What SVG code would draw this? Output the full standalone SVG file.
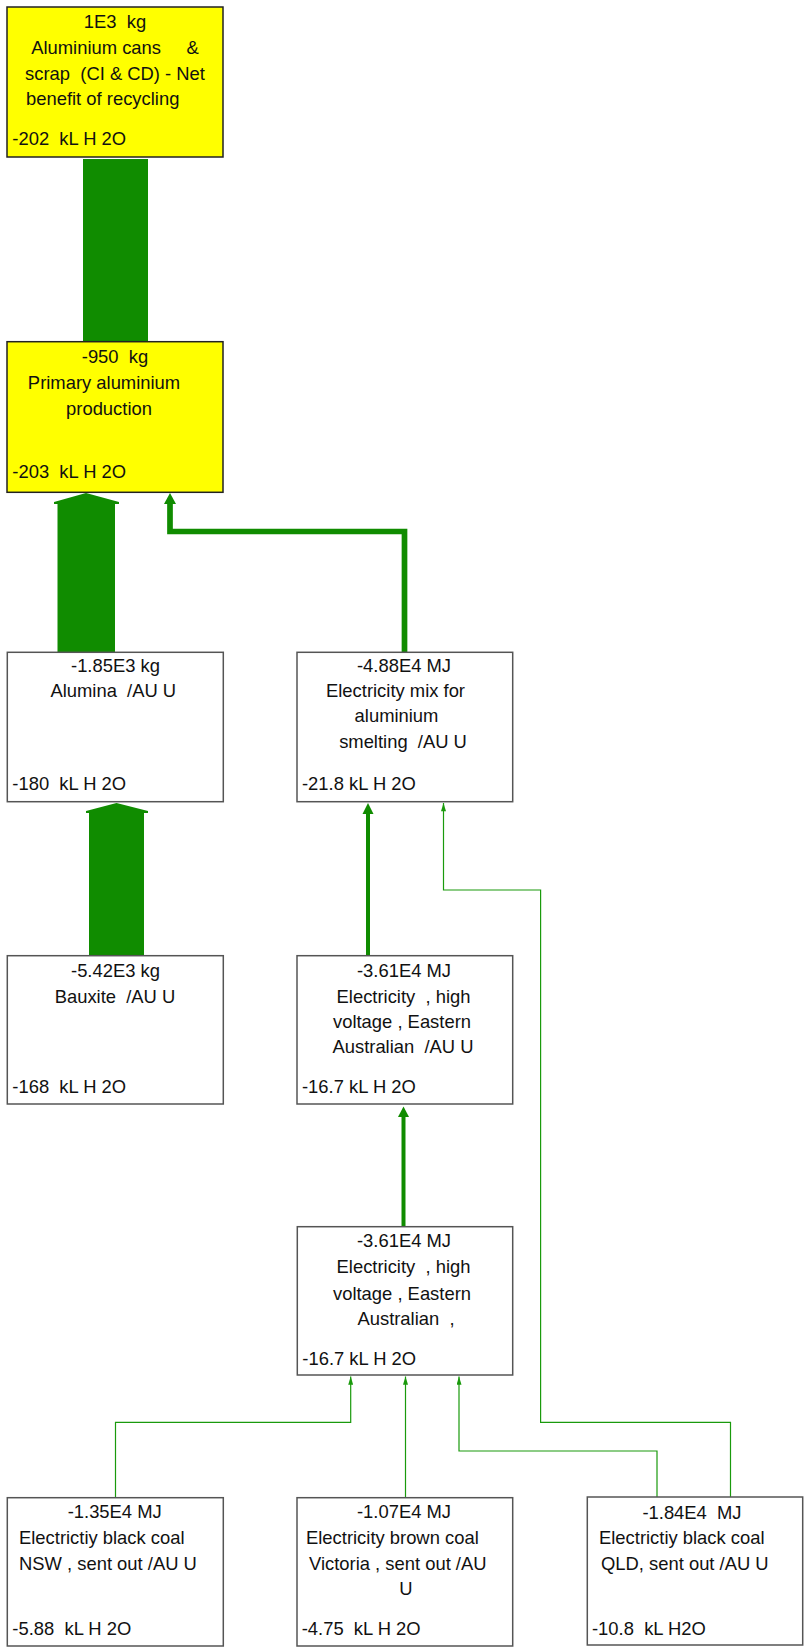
<svg xmlns="http://www.w3.org/2000/svg" width="805" height="1650" viewBox="0 0 805 1650" xml:space="preserve">
<style>
  text { font-family: "Liberation Sans", Arial, sans-serif; font-size: 18.4px; fill: #111; white-space: pre; }
  .c { text-anchor: middle; }
  .box { fill: #ffffff; stroke: #555; stroke-width: 1.5; }
  .ybox { fill: #ffff00; stroke: #222; stroke-width: 1.5; }
  .flow { fill: #108c00; stroke: none; }
  .med { fill: none; stroke: #108c00; stroke-miterlimit: 10; }
  .thin { fill: none; stroke: #1a9a0c; stroke-width: 1.2; marker-end: url(#thinHead); }
</style>
<defs>
  <marker id="thinHead" viewBox="0 0 10 6" refX="10" refY="3" markerWidth="9" markerHeight="5" markerUnits="userSpaceOnUse" orient="auto">
    <path d="M0,0 L10,3 L0,6 z" fill="#1a9a0c"/>
  </marker>
</defs>
<g id="connectors">
  <rect class="flow" x="83" y="159" width="65" height="183"/>
  <polygon class="flow" points="86,493 119,502 119,504 115,504 115,653 57.5,653 57.5,504 54,504 54,502"/>
  <polygon class="flow" points="116.5,803 148,811 148,813 144,813 144,956 89,956 89,813 86,813 86,811"/>
  <path class="med" stroke-width="5.7" d="M404.5,653 V531.5 H170 V502"/>
  <polygon class="flow" points="170,493 176,504 164,504"/>
  <path class="med" stroke-width="4" d="M368,956 V811"/>
  <polygon class="flow" points="368,803 373.5,814 362.5,814"/>
  <path class="med" stroke-width="4" d="M403.5,1227 V1115"/>
  <polygon class="flow" points="403.5,1106.5 409,1117 398,1117"/>
  <path class="thin" d="M730.5,1497 V1422.3 H540.6 V890 H443.5 V803"/>
  <path class="thin" d="M115.5,1497 V1422.3 H350.7 V1376.5"/>
  <path class="thin" d="M405.5,1497 V1376.5"/>
  <path class="thin" d="M657,1497 V1451 H459 V1376.5"/>
</g>
<g id="node-cans">
  <rect class="ybox" x="7" y="7" width="216" height="150"/>
  <text class="c" x="115" y="27.7">1E3  kg</text>
  <text class="c" x="115" y="54">Aluminium cans     &amp;</text>
  <text class="c" x="115" y="80">scrap  (CI &amp; CD) - Net</text>
  <text class="c" x="102.7" y="105">benefit of recycling</text>
  <text x="12.3" y="145">-202  kL H 2O</text>
</g>
<g id="node-primary">
  <rect class="ybox" x="7" y="341.7" width="216" height="150.6"/>
  <text class="c" x="115" y="363.3">-950  kg</text>
  <text class="c" x="104" y="389">Primary aluminium</text>
  <text class="c" x="109" y="415">production</text>
  <text x="12.3" y="478.3">-203  kL H 2O</text>
</g>
<g id="node-alumina">
  <rect class="box" x="7.3" y="652.3" width="216" height="149.4"/>
  <text class="c" x="115.5" y="671.7">-1.85E3 kg</text>
  <text class="c" x="113.3" y="696.7">Alumina  /AU U</text>
  <text x="12.3" y="790">-180  kL H 2O</text>
</g>
<g id="node-mix">
  <rect class="box" x="297" y="652.3" width="215.7" height="149.4"/>
  <text class="c" x="404" y="671.7">-4.88E4 MJ</text>
  <text class="c" x="395.5" y="696.7">Electricity mix for</text>
  <text class="c" x="396.5" y="721.7">aluminium</text>
  <text class="c" x="403" y="748.3">smelting  /AU U</text>
  <text x="302" y="790">-21.8 kL H 2O</text>
</g>
<g id="node-bauxite">
  <rect class="box" x="7.3" y="955.7" width="216" height="148.3"/>
  <text class="c" x="115.5" y="976.7">-5.42E3 kg</text>
  <text class="c" x="115" y="1002.7">Bauxite  /AU U</text>
  <text x="12.3" y="1092.7">-168  kL H 2O</text>
</g>
<g id="node-hv1">
  <rect class="box" x="297" y="955.7" width="215.7" height="148.3"/>
  <text class="c" x="404" y="976.7">-3.61E4 MJ</text>
  <text class="c" x="403.5" y="1002.7">Electricity  , high</text>
  <text class="c" x="402" y="1028.3">voltage , Eastern</text>
  <text class="c" x="403" y="1053.3">Australian  /AU U</text>
  <text x="302" y="1092.7">-16.7 kL H 2O</text>
</g>
<g id="node-hv2">
  <rect class="box" x="297.3" y="1226.7" width="215.4" height="148.3"/>
  <text class="c" x="404" y="1247.3">-3.61E4 MJ</text>
  <text class="c" x="403.5" y="1273.3">Electricity  , high</text>
  <text class="c" x="402" y="1300">voltage , Eastern</text>
  <text class="c" x="406" y="1325">Australian  ,</text>
  <text x="302.3" y="1365">-16.7 kL H 2O</text>
</g>
<g id="node-nsw">
  <rect class="box" x="7.3" y="1497.7" width="216" height="148.3"/>
  <text class="c" x="114.7" y="1518.3">-1.35E4 MJ</text>
  <text x="19" y="1544">Electrictiy black coal</text>
  <text x="19" y="1570">NSW , sent out /AU U</text>
  <text x="12.3" y="1635">-5.88  kL H 2O</text>
</g>
<g id="node-vic">
  <rect class="box" x="297" y="1497.7" width="215.7" height="148.3"/>
  <text class="c" x="404" y="1518.3">-1.07E4 MJ</text>
  <text x="306" y="1544">Electricity brown coal</text>
  <text x="309" y="1570">Victoria , sent out /AU</text>
  <text class="c" x="406" y="1595">U</text>
  <text x="301.7" y="1635">-4.75  kL H 2O</text>
</g>
<g id="node-qld">
  <rect class="box" x="587.3" y="1497" width="215.4" height="148"/>
  <text class="c" x="692" y="1518.5">-1.84E4  MJ</text>
  <text x="599" y="1544">Electrictiy black coal</text>
  <text x="601" y="1570">QLD, sent out /AU U</text>
  <text x="592" y="1635">-10.8  kL H2O</text>
</g>
</svg>
